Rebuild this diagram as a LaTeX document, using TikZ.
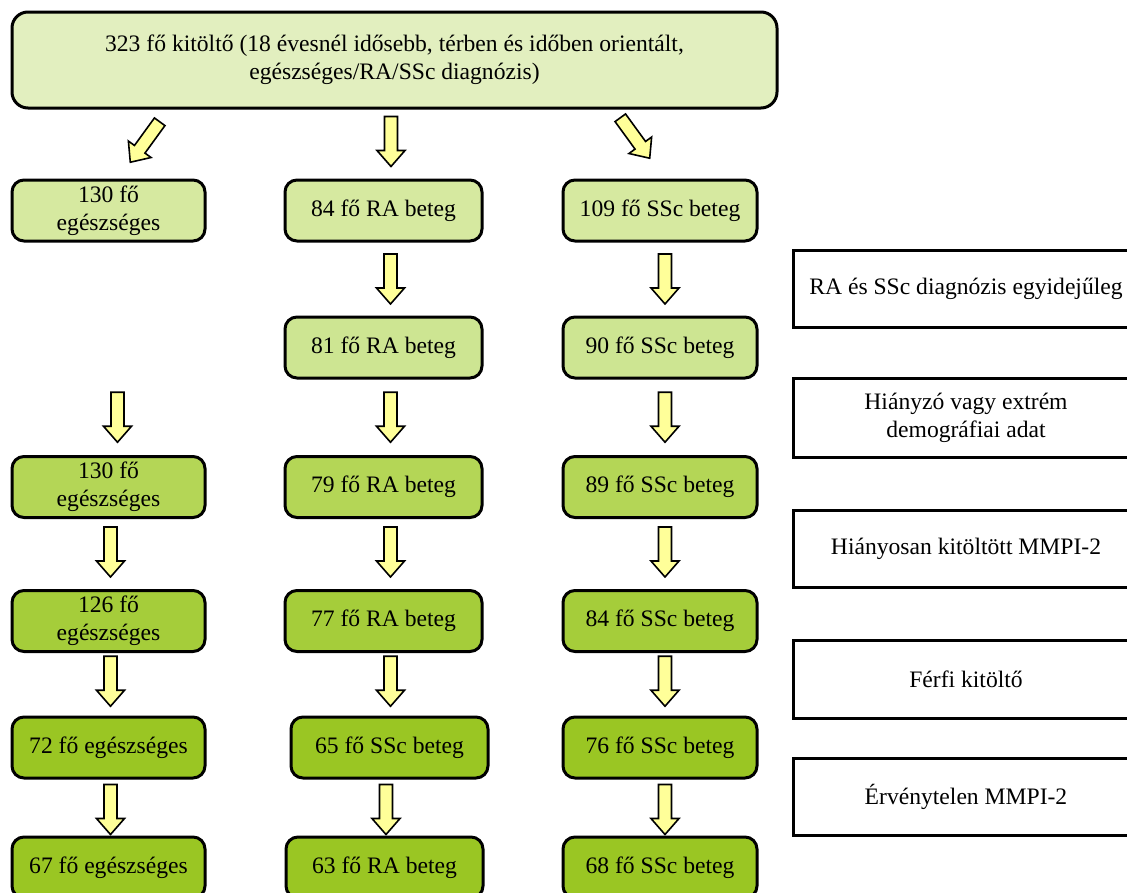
\documentclass[tikz,border=0pt]{standalone}
\usepackage{fontspec}
\setmainfont{Liberation Serif}
\usetikzlibrary{calc}
\definecolor{g0}{HTML}{E2EFBF}
\definecolor{g1}{HTML}{D6E9A0}
\definecolor{g2}{HTML}{CDE592}
\definecolor{g3}{HTML}{B4D656}
\definecolor{g4}{HTML}{A5CD3A}
\definecolor{g5}{HTML}{9AC623}
\definecolor{ayel}{HTML}{FFFF99}
\tikzset{
  txt/.style={font=\fontsize{23.6}{28}\selectfont, text=black, align=center, inner sep=0pt},
  gbox/.style={txt, draw=black, line width=3pt, rounded corners=12pt, minimum height=61pt},
  lcol/.style={gbox, minimum width=193pt},
  mcol/.style={gbox, minimum width=197pt},
  rcol/.style={gbox, minimum width=194pt},
  wbox/.style={txt, draw=black, line width=3pt, fill=white, minimum width=346pt},
  pics/barrow/.style={code={
    \draw[fill=ayel, line width=1.6pt, line join=miter]
      (-6.5,-25) -- (-6.5,9) -- (-14,9) -- (0,25) -- (14,9) -- (6.5,9) -- (6.5,-25) -- cycle;
  }}
}
\begin{document}
\begin{tikzpicture}[x=1pt, y=-1pt]
\path[use as bounding box] (0,0) rectangle (1127,892);

% top box
\node[txt, draw=black, line width=3pt, rounded corners=16pt, fill=g0,
      minimum width=765pt, minimum height=96pt] (top) at (394.5,60)
  {323 fő kitöltő (18 évesnél idősebb, térben és időben orientált,\\egészséges/RA/SSc diagnózis)};

% left column
\node[lcol, fill=g1] (h1) at (108.5,210.5) {130 fő\\egészséges};
\node[lcol, fill=g3] (h3) at (108.5,487) {130 fő\\egészséges};
\node[lcol, fill=g4] (h4) at (108.5,621) {126 fő\\egészséges};
\node[lcol, fill=g5] (h5) at (108.5,747.5) {72 fő egészséges};
\node[lcol, fill=g5] (h6) at (108.5,867.5) {67 fő egészséges};

% middle column
\node[mcol, fill=g1] (r1) at (383.5,210.5) {84 fő RA beteg};
\node[mcol, fill=g2] (r2) at (383.5,347.5) {81 fő RA beteg};
\node[mcol, fill=g3] (r3) at (383.5,487) {79 fő RA beteg};
\node[mcol, fill=g4] (r4) at (383.5,621) {77 fő RA beteg};
\node[mcol, fill=g5] (r5) at (389.5,747.5) {65 fő SSc beteg};
\node[mcol, fill=g5] (r6) at (384.5,867.5) {63 fő RA beteg};

% right column
\node[rcol, fill=g1] (s1) at (660,210.5) {109 fő SSc beteg};
\node[rcol, fill=g2] (s2) at (660,347.5) {90 fő SSc beteg};
\node[rcol, fill=g3] (s3) at (660,487) {89 fő SSc beteg};
\node[rcol, fill=g4] (s4) at (660,621) {84 fő SSc beteg};
\node[rcol, fill=g5] (s5) at (660,747.5) {76 fő SSc beteg};
\node[rcol, fill=g5] (s6) at (660,867.5) {68 fő SSc beteg};

% exclusion boxes
\node[wbox, minimum height=77pt] (e1) at (966,288.5) {RA és SSc diagnózis egyidejűleg};
\node[wbox, minimum height=79pt] (e2) at (966,417.5) {Hiányzó vagy extrém\\demográfiai adat};
\node[wbox, minimum height=77pt] (e3) at (966,548.5) {Hiányosan kitöltött MMPI-2};
\node[wbox, minimum height=78pt] (e4) at (966,679) {Férfi kitöltő};
\node[wbox, minimum height=77pt] (e5) at (966,796.5) {Érvénytelen MMPI-2};

% top block arrows
\pic[rotate=-36] at (145,142) {barrow};
\pic at (391,141.5) {barrow};
\pic[rotate=36] at (635,138) {barrow};

% middle column arrows
\pic at ($(r1.south)!0.5!(r2.north)+(7,0)$) {barrow};
\pic at ($(r2.south)!0.5!(r3.north)+(7,0)$) {barrow};
\pic at ($(r3.south)!0.5!(r4.north)+(7,-2)$) {barrow};
\pic at ($(r4.south)!0.5!(r5.north)+(4,-3)$) {barrow};
\pic at ($(r5.south)!0.5!(r6.north)+(-1,2)$) {barrow};

% right column arrows
\pic at ($(s1.south)!0.5!(s2.north)+(5,0)$) {barrow};
\pic at ($(s2.south)!0.5!(s3.north)+(5,0)$) {barrow};
\pic at ($(s3.south)!0.5!(s4.north)+(5,-2)$) {barrow};
\pic at ($(s4.south)!0.5!(s5.north)+(5,-3)$) {barrow};
\pic at ($(s5.south)!0.5!(s6.north)+(5,2)$) {barrow};

% left column arrows
\coordinate (m23) at ($(r2.south)!0.5!(r3.north)$);
\pic at ($(h3.north |- m23)+(9,0)$) {barrow};
\pic at ($(h3.south)!0.5!(h4.north)+(2,-2)$) {barrow};
\pic at ($(h4.south)!0.5!(h5.north)+(2,-3)$) {barrow};
\pic at ($(h5.south)!0.5!(h6.north)+(2,2)$) {barrow};
\end{tikzpicture}
\end{document}
